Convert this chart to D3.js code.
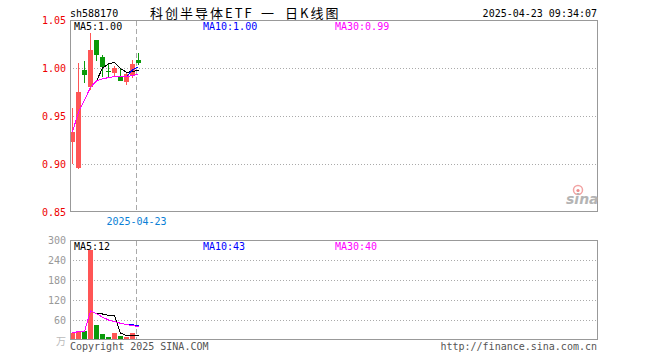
<!DOCTYPE html>
<html>
<head>
<meta charset="utf-8">
<script src="https://cdn.jsdelivr.net/npm/d3@7"></script>
<style>
  html, body { margin: 0; padding: 0; background: #fff; }
  svg { display: block; }
  text { font-family: "DejaVu Sans Mono", monospace; font-size: 10px; }
</style>
</head>
<body>
<svg id="chart" width="660" height="360"></svg>
<script>
// daily candles, oldest first
const opens  = [0.9232, 0.8961, 0.9976, 0.9805, 1.0295, 1.0111, 0.9969, 0.9948, 0.9914, 0.9859, 0.9927, 1.0083];
const highs  = [0.9583, 1.0052, 1.0070, 1.0365, 1.0295, 1.0135, 1.0052, 1.0021, 1.0000, 0.9948, 1.0083, 1.0156];
const lows   = [0.9000, 0.8948, 0.9844, 0.9776, 1.0073, 0.9903, 0.9896, 0.9917, 0.9865, 0.9823, 0.9896, 1.0031];
const closes = [0.9336, 0.9745, 0.9924, 1.0188, 1.0132, 1.0007, 0.9963, 1.0000, 0.9868, 0.9938, 1.0042, 1.0047];
const volumes = [22, 28, 28, 270, 46, 18, 8, 20, 12, 8, 20, 2]; // 万

const priceTicks = [0.85, 0.90, 0.95, 1.00, 1.05];
const volTicks = [60, 120, 180, 240, 300];
const maPeriods = [5, 10, 30];
const maColors = ['#000', '#0000ff', '#ff00ff'];

const symbol = 'sh588170';
const titleParts = ['科创半导体ETF', '一', '日K线图'];
const stamp = '2025-04-23 09:34:07';
const dateTick = '2025-04-23';

const UP = '#ff5555', DOWN = '#0a9a0a';

function movingAvg(arr, n) {
  return arr.map((_, i) => d3.mean(arr.slice(Math.max(0, i - n + 1), i + 1)));
}

const svg = d3.select('#chart');
const L = 70, R = 598;

const x = d3.scaleLinear().domain([0, closes.length - 1]).range([72.5, 138.5]);
const py = d3.scaleLinear().domain([0.85, 1.05]).range([212, 20]);
const vy = d3.scaleLinear().domain([0, 300]).range([340, 240]);
const markX = x(closes.length - 1) - 2;

// header
svg.append('text').attr('x', 70).attr('y', 17).text(symbol);
const titleX = [150, 261, 285];
svg.selectAll('text.title').data(titleParts).join('text')
  .attr('x', (d, i) => titleX[i]).attr('y', 18)
  .style('font-family', '"Noto Sans CJK SC", sans-serif').style('font-size', '13px')
  .style('letter-spacing', '2px').text(d => d);
svg.append('text').attr('x', 597).attr('y', 17).attr('text-anchor', 'end').text(stamp);

// ---- price panel
const gp = svg.append('g');
gp.selectAll('line.grid').data(priceTicks.filter(v => v > 0.86 && v < 1.04)).join('line')
  .attr('x1', L).attr('x2', R)
  .attr('y1', d => Math.round(py(d)) + 0.5).attr('y2', d => Math.round(py(d)) + 0.5)
  .attr('stroke', '#aaa').attr('stroke-dasharray', '1,2');
gp.append('line').attr('x1', markX).attr('x2', markX).attr('y1', 21).attr('y2', 211)
  .attr('stroke', '#aaa').attr('stroke-dasharray', '5,3');
gp.selectAll('text.tick').data(priceTicks).join('text')
  .attr('x', 66).attr('y', d => py(d) + 4).attr('text-anchor', 'end')
  .attr('fill', '#e00').text(d => d.toFixed(2));

const candles = gp.append('g').selectAll('g').data(closes).join('g')
  .attr('fill', (d, i) => d >= opens[i] ? UP : DOWN)
  .attr('stroke', (d, i) => d >= opens[i] ? UP : DOWN);
candles.append('line')
  .attr('x1', (d, i) => x(i)).attr('x2', (d, i) => x(i))
  .attr('y1', (d, i) => py(highs[i])).attr('y2', (d, i) => py(lows[i]))
  .attr('shape-rendering', 'crispEdges');
candles.append('rect')
  .attr('x', (d, i) => x(i) - 2.5).attr('width', 5)
  .attr('y', (d, i) => py(Math.max(d, opens[i])))
  .attr('height', (d, i) => Math.max(1, Math.abs(py(d) - py(opens[i]))))
  .attr('stroke', 'none').attr('shape-rendering', 'crispEdges');

const pLine = d3.line().x((d, i) => x(i)).y(d => py(d));
maPeriods.forEach((n, k) => {
  gp.append('path').attr('d', pLine(movingAvg(closes, n)))
    .attr('fill', 'none').attr('stroke', maColors[k]).attr('stroke-width', 1)
    .attr('shape-rendering', 'crispEdges');
});
const legX = [74, 203, 335];
maPeriods.forEach((n, k) => {
  gp.append('text').attr('x', legX[k]).attr('y', 30).attr('fill', maColors[k])
    .text(`MA${n}:${movingAvg(closes, n).at(-1).toFixed(2)}`);
});
gp.append('rect').attr('x', L + 0.5).attr('y', 20.5).attr('width', R - L - 1).attr('height', 191)
  .attr('fill', 'none').attr('stroke', '#999');
svg.append('text').attr('x', markX).attr('y', 225).attr('text-anchor', 'middle')
  .attr('fill', '#0a7fd6').text(dateTick);

// sina mark
const logo = svg.append('g');
logo.append('circle').attr('cx', 578).attr('cy', 190).attr('r', 4.5)
  .attr('fill', 'none').attr('stroke', '#f2a3a3').attr('stroke-width', 1.5);
logo.append('circle').attr('cx', 578).attr('cy', 190.5).attr('r', 1.6).attr('fill', '#e88');
logo.append('text').attr('x', 566).attr('y', 204)
  .style('font-family', '"DejaVu Sans", sans-serif').style('font-size', '14px')
  .style('font-style', 'italic').style('font-weight', 'bold').attr('fill', '#b4b4b4').text('sina');

// ---- volume panel
const gv = svg.append('g');
gv.selectAll('line.grid').data(volTicks.filter(v => v < 300)).join('line')
  .attr('x1', L).attr('x2', R)
  .attr('y1', d => vy(d) + 0.5).attr('y2', d => vy(d) + 0.5)
  .attr('stroke', '#aaa').attr('stroke-dasharray', '1,2');
gv.append('line').attr('x1', markX).attr('x2', markX).attr('y1', 241).attr('y2', 339)
  .attr('stroke', '#aaa').attr('stroke-dasharray', '5,3');
gv.selectAll('text.tick').data(volTicks).join('text')
  .attr('x', 66).attr('y', d => vy(d) + 4).attr('text-anchor', 'end')
  .attr('fill', '#999').text(d => d);
gv.append('text').attr('x', 66).attr('y', 345).attr('text-anchor', 'end')
  .style('font-family', '"Noto Sans CJK SC", sans-serif').attr('fill', '#bbb').text('万');

gv.selectAll('rect.bar').data(volumes).join('rect')
  .attr('x', (d, i) => x(i) - 2.5).attr('width', 5)
  .attr('y', d => vy(d)).attr('height', d => 340 - vy(d))
  .attr('fill', (d, i) => closes[i] >= opens[i] ? UP : DOWN)
  .attr('shape-rendering', 'crispEdges');

const vLine = d3.line().x((d, i) => x(i)).y(d => vy(d));
maPeriods.forEach((n, k) => {
  gv.append('path').attr('d', vLine(movingAvg(volumes, n)))
    .attr('fill', 'none').attr('stroke', maColors[k]).attr('stroke-width', 1)
    .attr('shape-rendering', 'crispEdges');
});
maPeriods.forEach((n, k) => {
  gv.append('text').attr('x', legX[k]).attr('y', 250).attr('fill', maColors[k])
    .text(`MA${n}:${Math.round(movingAvg(volumes, n).at(-1))}`);
});
gv.append('rect').attr('x', L + 0.5).attr('y', 240.5).attr('width', R - L - 1).attr('height', 99)
  .attr('fill', 'none').attr('stroke', '#999');

// footer
svg.append('text').attr('x', 70).attr('y', 350).attr('fill', '#555').text('Copyright 2025 SINA.COM');
svg.append('text').attr('x', 597).attr('y', 350).attr('text-anchor', 'end').attr('fill', '#555')
  .text('http://finance.sina.com.cn');
</script>
</body>
</html>
